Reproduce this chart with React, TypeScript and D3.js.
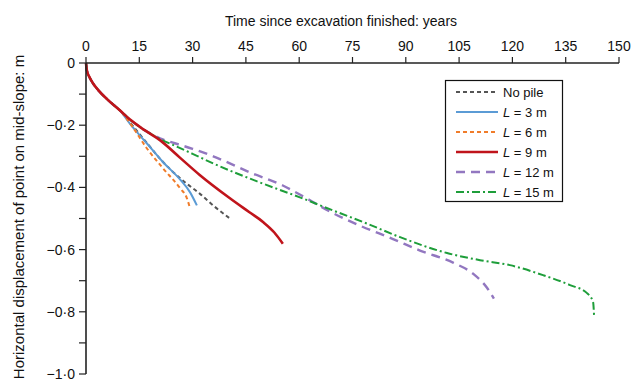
import React from "react";
import * as d3 from "d3";

const xTicks = [0, 15, 30, 45, 60, 75, 90, 105, 120, 135, 150];
const yTicksMajor = [0, -0.2, -0.4, -0.6, -0.8, -1.0];
const yTicksMinor = [-0.1, -0.3, -0.5, -0.7, -0.9];
const yTickLabels = ["0", "\u22120\u00b72", "\u22120\u00b74", "\u22120\u00b76", "\u22120\u00b78", "\u22121\u00b70"];

const commonT = [0, 0.25, 1, 2, 3.5, 6, 9.6];
const commonD = [0, -0.024, -0.046, -0.066, -0.088, -0.117, -0.153];

const noPileT = [...commonT, 13, 17, 21, 24, 28, 32, 36, 40.5];
const noPileD = [...commonD, -0.2, -0.255, -0.31, -0.345, -0.385, -0.42, -0.46, -0.5];

const l3T = [...commonT, 12.4, 17.1, 21.7, 26.5, 29.3, 31.2];
const l3D = [...commonD, -0.196, -0.258, -0.319, -0.375, -0.416, -0.458];

const l6T = [...commonT, 13.2, 17.1, 21.7, 26.5, 28.4, 29.3];
const l6D = [...commonD, -0.207, -0.274, -0.339, -0.403, -0.435, -0.468];

const l9T = [...commonT, 12.4, 16.5, 20.8, 26.5, 32, 40.5, 46, 49.9, 53, 55.4];
const l9D = [...commonD, -0.182, -0.216, -0.248, -0.305, -0.36, -0.435, -0.48, -0.512, -0.545, -0.581];

const l12T = [...commonT, 12.4, 16.5, 20.8, 25, 30, 35.8, 46.2, 55.4, 62.2, 68.7, 77.1, 86.4, 94, 103.3, 109, 112.8, 114.8];
const l12D = [...commonD, -0.182, -0.216, -0.242, -0.258, -0.276, -0.3, -0.352, -0.394, -0.436, -0.478, -0.523, -0.566, -0.603, -0.642, -0.678, -0.722, -0.758];

const l15T = [...commonT, 12.4, 16.5, 20.8, 25, 30, 35.8, 48, 60.2, 69.5, 79, 88.4, 101.6, 110.9, 119.3, 128.6, 136.2, 141, 142.7, 143];
const l15D = [...commonD, -0.182, -0.216, -0.244, -0.266, -0.292, -0.323, -0.38, -0.432, -0.474, -0.516, -0.56, -0.611, -0.634, -0.65, -0.682, -0.714, -0.74, -0.768, -0.816];

const seriesNames = ["No pile", "L = 3 m", "L = 6 m", "L = 9 m", "L = 12 m", "L = 15 m"];

const styles = [
  { color: "#555555", dash: "4,3", width: 2 },
  { color: "#5B9BD5", dash: "", width: 2 },
  { color: "#F07C2A", dash: "4,3", width: 2 },
  { color: "#C0141B", dash: "", width: 2.6 },
  { color: "#9277C0", dash: "9,6", width: 2.4 },
  { color: "#1E9E3A", dash: "8,3,2,3", width: 2 },
];

export default function App() {
  const x = d3.scaleLinear().domain([0, 150]).range([86, 619]);
  const y = d3.scaleLinear().domain([0, -1]).range([63, 374]);
  const data: [number[], number[]][] = [
    [noPileT, noPileD],
    [l3T, l3D],
    [l6T, l6D],
    [l9T, l9D],
    [l12T, l12D],
    [l15T, l15D],
  ];
  const line = d3
    .line<[number, number]>()
    .x((p) => x(p[0]))
    .y((p) => y(p[1]))
    .curve(d3.curveMonotoneX);
  const font = "Liberation Sans, Arial, sans-serif";
  const order = [0, 1, 2, 4, 5, 3];
  return (
    <svg
      width={643}
      height={387}
      style={{ position: "absolute", left: 0, top: 0, background: "#fff" }}
      fontFamily={font}
    >
      <rect x={0} y={0} width={643} height={387} fill="#fff" />
      {order.map((i) => {
        const pts = data[i][0].map((t, k) => [t, data[i][1][k]] as [number, number]);
        const s = styles[i];
        return (
          <path
            key={i}
            d={line(pts) || ""}
            fill="none"
            stroke={s.color}
            strokeWidth={s.width}
            strokeDasharray={s.dash}
          />
        );
      })}
      <line x1={x(0)} x2={x(150)} y1={y(0)} y2={y(0)} stroke="#222" strokeWidth={1.6} />
      {xTicks.map((t) => (
        <g key={t}>
          <line x1={x(t)} x2={x(t)} y1={y(0)} y2={y(0) - 6} stroke="#222" strokeWidth={1.2} />
          <text x={x(t)} y={51} textAnchor="middle" fontSize={14} fill="#111">
            {t}
          </text>
        </g>
      ))}
      <text x={341} y={26} textAnchor="middle" fontSize={14} fill="#111">
        Time since excavation finished: years
      </text>
      <line x1={x(0)} x2={x(0)} y1={y(0)} y2={y(-1)} stroke="#222" strokeWidth={1.6} />
      {yTicksMajor.map((v, k) => (
        <g key={v}>
          <line x1={x(0) - 7} x2={x(0)} y1={y(v)} y2={y(v)} stroke="#222" strokeWidth={1.2} />
          <text x={x(0) - 11} y={y(v) + 5} textAnchor="end" fontSize={14} fill="#111">
            {yTickLabels[k]}
          </text>
        </g>
      ))}
      {yTicksMinor.map((v) => (
        <line key={v} x1={x(0) - 7} x2={x(0)} y1={y(v)} y2={y(v)} stroke="#222" strokeWidth={1.2} />
      ))}
      <text
        transform="translate(24,217) rotate(-90)"
        textAnchor="middle"
        fontSize={15}
        fill="#111"
      >
        Horizontal displacement of point on mid-slope: m
      </text>
      <rect x={445.5} y={80.5} width={117} height={121} fill="#fff" stroke="#111" strokeWidth={1.2} />
      {seriesNames.map((name, i) => {
        const yy = 92 + i * 20;
        const s = styles[i];
        return (
          <g key={name}>
            <line
              x1={456}
              x2={498}
              y1={yy}
              y2={yy}
              stroke={s.color}
              strokeWidth={s.width}
              strokeDasharray={s.dash}
            />
            {i === 0 ? (
              <text x={503} y={yy + 4.5} fontSize={13} fill="#111">
                {name}
              </text>
            ) : (
              <text x={503} y={yy + 4.5} fontSize={13} fill="#111">
                <tspan fontStyle="italic">L</tspan>
                {name.slice(1)}
              </text>
            )}
          </g>
        );
      })}
    </svg>
  );
}
